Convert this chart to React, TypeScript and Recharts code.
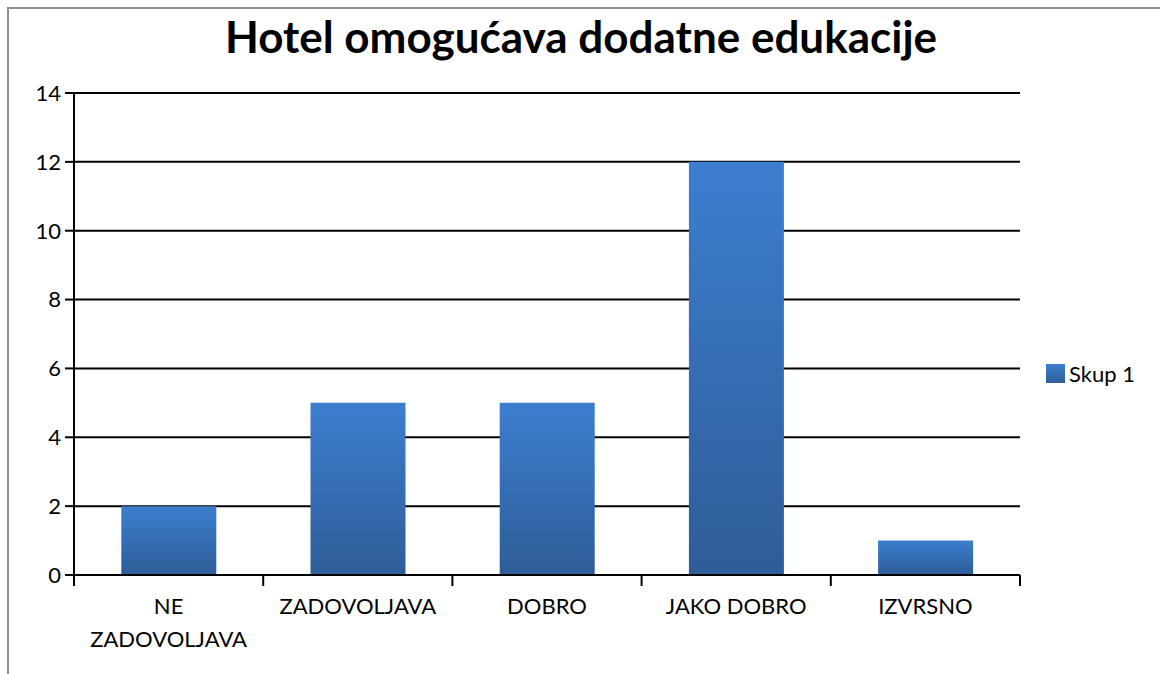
import { BarChart, Bar, XAxis, YAxis, CartesianGrid } from "recharts";

const categories = ["NE ZADOVOLJAVA", "ZADOVOLJAVA", "DOBRO", "JAKO DOBRO", "IZVRSNO"];
const skup1 = [2, 5, 5, 12, 1];
const yTicks = [0, 2, 4, 6, 8, 10, 12, 14];

const data = categories.map((name, i) => ({ name, skup1: skup1[i] }));

const FONT = "Lato, 'Open Sans', sans-serif";

// greedy wrap by characters, tick labels are short
const wrap = (label: string, maxChars = 12) => {
  const lines: string[] = [];
  let cur = "";
  label.split(" ").forEach((w) => {
    const next = cur ? cur + " " + w : w;
    if (next.length > maxChars && cur) {
      lines.push(cur);
      cur = w;
    } else {
      cur = next;
    }
  });
  if (cur) lines.push(cur);
  return lines;
};

const CategoryTick = (props: any) => {
  const { x, y, payload, index, visibleTicksCount } = props;
  const half = payload.offset;
  const lines = wrap(String(payload.value));
  return (
    <g>
      <line x1={x - half} x2={x - half} y1={y} y2={y + 11} stroke="#000" strokeWidth={2} />
      {index === visibleTicksCount - 1 && (
        <line x1={x + half} x2={x + half} y1={y} y2={y + 11} stroke="#000" strokeWidth={2} />
      )}
      <text textAnchor="middle" fontSize={22} fontFamily={FONT} fill="#000">
        {lines.map((l, i) => (
          <tspan key={i} x={x} y={y + 39 + i * 33}>
            {l}
          </tspan>
        ))}
      </text>
    </g>
  );
};

const App = () => {
  return (
    <div
      style={{
        position: "absolute",
        left: 0,
        top: 0,
        width: 1160,
        height: 674,
        background: "#fff",
        overflow: "hidden",
        fontFamily: FONT,
      }}
    >
      <div
        style={{
          position: "absolute",
          left: 7,
          top: 7,
          width: 1170,
          height: 690,
          border: "2px solid #8e8e8e",
        }}
      />
      <div
        style={{
          position: "absolute",
          left: 0,
          top: 10,
          width: 1162,
          textAlign: "center",
          fontSize: 44,
          fontWeight: 700,
          color: "#000",
        }}
      >
        Hotel omogućava dodatne edukacije
      </div>
      <div style={{ position: "absolute", left: 0, top: 0 }}>
        <BarChart
          width={1160}
          height={674}
          data={data}
          margin={{ top: 93, right: 140, bottom: 0, left: 0 }}
          barCategoryGap="25%"
        >
          <defs>
            <linearGradient id="barFill" x1="0" y1="0" x2="0" y2="1">
              <stop offset="0%" stopColor="#3c7ecf" />
              <stop offset="100%" stopColor="#2e5d98" />
            </linearGradient>
          </defs>
          <CartesianGrid vertical={false} stroke="#000" strokeWidth={2} />
          <XAxis
            dataKey="name"
            height={99}
            interval={0}
            tickLine={false}
            tickSize={0}
            tickMargin={0}
            axisLine={{ stroke: "#000", strokeWidth: 2 }}
            tick={<CategoryTick />}
          />
          <YAxis
            width={74}
            domain={[0, 14]}
            ticks={yTicks}
            interval={0}
            tickSize={9}
            tickMargin={4}
            tickLine={{ stroke: "#000", strokeWidth: 2 }}
            axisLine={{ stroke: "#000", strokeWidth: 2 }}
            tick={{ fill: "#000", fontSize: 22, fontFamily: FONT }}
          />
          <Bar dataKey="skup1" name="Skup 1" fill="url(#barFill)" isAnimationActive={false} />
        </BarChart>
      </div>
      <div
        style={{
          position: "absolute",
          left: 1046,
          top: 360,
          display: "flex",
          alignItems: "center",
          fontSize: 22,
          color: "#000",
        }}
      >
        <span
          style={{
            display: "inline-block",
            width: 19,
            height: 19,
            background: "linear-gradient(#3c7ecf, #2e5d98)",
            marginRight: 4,
          }}
        />
        Skup 1
      </div>
    </div>
  );
};

export default App;
